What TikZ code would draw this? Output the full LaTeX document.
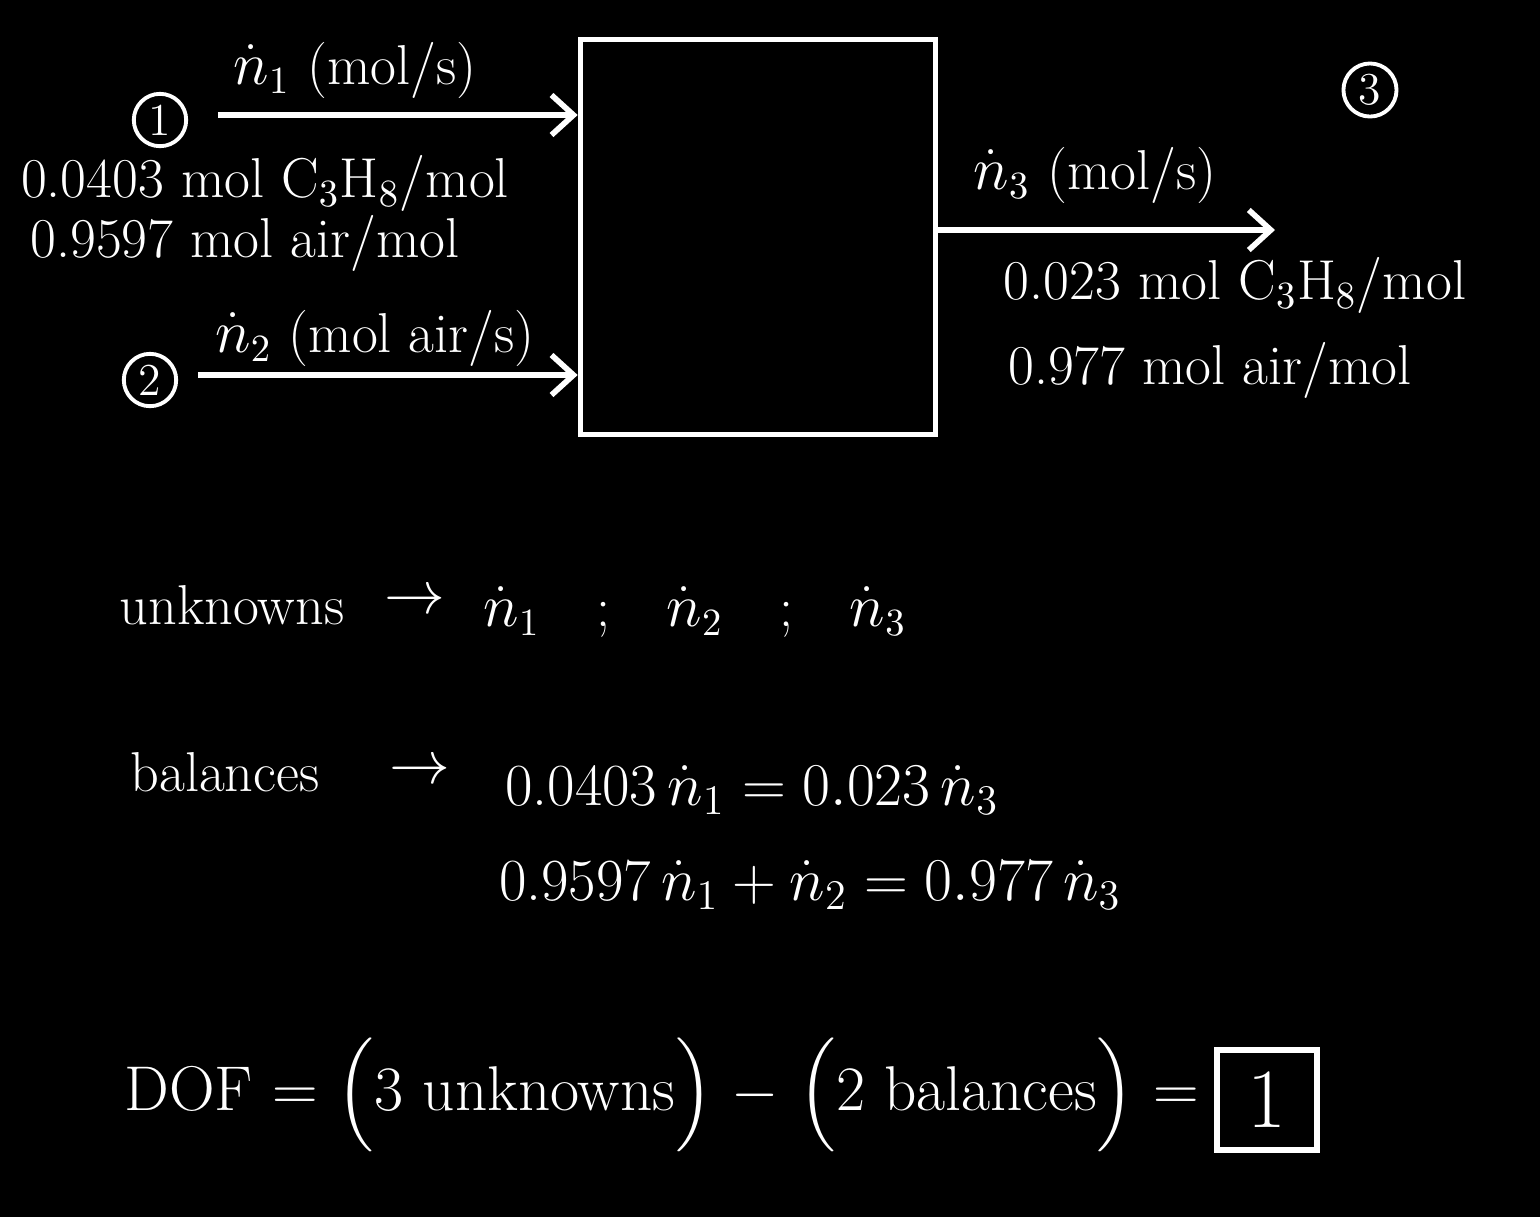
\documentclass[tikz,border=0pt]{standalone}
\usepackage{amsmath,amssymb}
\usepackage{xcolor}
\usepackage{tikz}
\usetikzlibrary{arrows.meta,positioning,calc}
\tikzset{
  unit/.style={rectangle, draw=white, line width=1.6pt, minimum width=35.5mm,
               minimum height=39.5mm},
  txt/.style={text=white, font=\fontsize{16}{19}\selectfont, inner sep=1pt},
  eqn/.style={text=white, font=\fontsize{17}{20}\selectfont, inner sep=1pt},
  big/.style={text=white, font=\fontsize{18}{22}\selectfont, inner sep=1pt},
  num/.style={circle, draw=white, line width=1.1pt, text=white,
              font=\fontsize{13}{15}\selectfont, inner sep=1.5pt},
  ans/.style={rectangle, draw=white, line width=1.6pt, text=white,
              font=\fontsize{24}{28}\selectfont, minimum width=10mm, minimum height=10mm},
  fl/.style={-{Straight Barb[length=2.2mm, width=4mm]}, draw=white, line width=1.6pt},
}
\begin{document}
\begin{tikzpicture}
\fill[black] (0,0) rectangle (15.40,-12.17);
\useasboundingbox (0,0) rectangle (15.40,-12.17);
% process unit
\node[unit] (mix) at (7.58,-2.37) {};
% stream 1
\node[num] (c1) at (1.6,-1.2) {1};
\coordinate (s1) at (2.18,-1.15);
\draw[fl] (s1) -- (s1 -| mix.west);
\node[txt] (lab1) at (3.55,-0.7) {$\dot{n}_1$ (mol/s)};
\node[txt] (x1a) at (2.65,-1.83) {0.0403 mol C$_3$H$_8$/mol};
\node[txt] (x1b) at (2.45,-2.43) {0.9597 mol air/mol};
% stream 2
\node[num] (c2) at (1.5,-3.8) {2};
\coordinate (s2) at (1.98,-3.75);
\draw[fl] (s2) -- (s2 -| mix.west);
\node[txt] (lab2) at (3.75,-3.38) {$\dot{n}_2$ (mol air/s)};
% stream 3
\node[num] (c3) at (13.7,-0.9) {3};
\coordinate (s3) at (12.75,-2.3);
\draw[fl] (s3 -| mix.east) -- (s3);
\node[txt] (lab3) at (10.95,-1.75) {$\dot{n}_3$ (mol/s)};
\node[txt] (x3a) at (12.35,-2.85) {0.023 mol C$_3$H$_8$/mol};
\node[txt] (x3b) at (12.1,-3.7) {0.977 mol air/mol};
% analysis
\node[txt] (unk) at (2.32,-6.05) {unknowns};
\node[txt] (unkar) at (4.15,-6.02) {$\rightarrow$};
\node[txt] (unkvar) at (6.95,-6.12) {$\dot{n}_1$\quad;\quad$\dot{n}_2$\quad;\quad$\dot{n}_3$};
\node[txt] (bal) at (2.25,-7.72) {balances};
\node[txt] (balar) at (4.2,-7.72) {$\rightarrow$};
\node[eqn] (eq1) at (7.52,-7.9) {0.0403\,$\dot{n}_1 = 0.023\,\dot{n}_3$};
\node[eqn] (eq2) at (8.1,-8.85) {0.9597\,$\dot{n}_1 + \dot{n}_2 = 0.977\,\dot{n}_3$};
\node[big] (dof) at (6.62,-10.95) {DOF = $\Bigl($3 unknowns$\Bigr)$ $-$ $\Bigl($2 balances$\Bigr)$ =};
\node[ans] (res) at (12.67,-11.0) {1};
\end{tikzpicture}
\end{document}
